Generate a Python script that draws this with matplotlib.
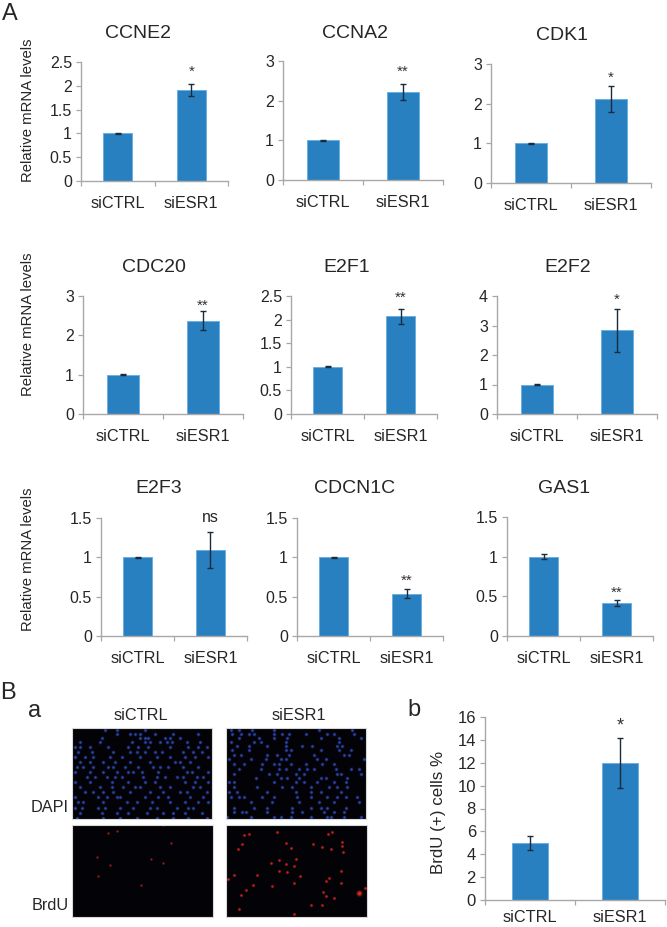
import matplotlib
matplotlib.use("Agg")
import matplotlib.pyplot as plt
from matplotlib.patches import Rectangle

W, H = 667, 927
plt.rcParams['font.family'] = ['Liberation Sans', 'DejaVu Sans']

# bar data
groups = ["siCTRL", "siESR1"]
genes = ["CCNE2", "CCNA2", "CDK1", "CDC20", "E2F1", "E2F2", "E2F3", "CDCN1C", "GAS1"]
ctrl_vals = [1, 1, 1, 1, 1, 1, 1, 1, 1]
ctrl_errs = [0.01, 0.01, 0.01, 0.01, 0.01, 0.01, 0.005, 0.005, 0.03]
esr_vals = [1.92, 2.22, 2.12, 2.37, 2.07, 2.84, 1.09, 0.54, 0.42]
esr_errs = [0.125, 0.20, 0.33, 0.245, 0.16, 0.73, 0.23, 0.06, 0.04]
y_maxes = [2.5, 3, 3, 3, 2.5, 4, 1.5, 1.5, 1.5]
y_ticks = [
    [0, 0.5, 1, 1.5, 2, 2.5], [0, 1, 2, 3], [0, 1, 2, 3],
    [0, 1, 2, 3], [0, 0.5, 1, 1.5, 2, 2.5], [0, 1, 2, 3, 4],
    [0, 0.5, 1, 1.5], [0, 0.5, 1, 1.5], [0, 0.5, 1, 1.5],
]
stars = ["*", "**", "*", "**", "**", "*", "ns", "**", "**"]

brdu_vals = [5, 12]
brdu_errs = [0.6, 2.17]
brdu_ticks = [0, 2, 4, 6, 8, 10, 12, 14, 16]

# layout, in pixels of the figure
boxes = [
    (81, 228, 62, 181), (283, 443, 61, 180), (491, 651, 64, 183),
    (83, 243, 296, 414), (291, 437, 296, 414), (497, 657, 296, 414),
    (101, 247, 518, 636), (297, 443, 518, 636), (507, 653, 517, 636),
]
title_pos = [(138, 33), (355, 33), (562, 36), (154, 267), (347, 267),
             (568, 267), (159, 489), (355, 489), (564, 488)]
star_y = [70, 70, 76, 304, 296, 298, 517, 579, 591]

# spots of the micrographs, (row y, [x...])
dapi_ctrl = [
    (15, [105, 140, 225]),
    (28, [140, 180, 195, 210, 255, 310, 385]),
    (40, [95, 210, 225, 235, 285, 300, 330]),
    (50, [30, 90, 185, 225, 240, 270, 290, 305, 350, 390]),
    (65, [15, 30, 60, 115, 175, 205, 235, 300, 355, 385, 410]),
    (80, [25, 65, 130, 180, 200, 225, 255, 275, 340, 370, 395]),
    (95, [15, 45, 70, 120, 155, 210, 260, 300, 345, 375, 415]),
    (110, [30, 60, 100, 135, 180, 240, 315, 330, 360]),
    (125, [20, 40, 70, 115, 130, 165, 205, 250, 270, 295, 340, 385]),
    (140, [15, 60, 100, 140, 175, 190, 215, 265, 350, 365, 415]),
    (155, [50, 75, 110, 135, 155, 220, 260, 285, 320, 340, 380, 400]),
    (170, [15, 60, 125, 175, 225, 255, 345, 375, 415]),
    (185, [30, 90, 125, 160, 195, 210, 270, 300, 370, 390]),
    (200, [45, 70, 100, 130, 180, 240, 280, 330, 350, 410]),
    (215, [15, 85, 110, 140, 150, 225, 265, 295, 360, 400]),
    (230, [25, 40, 100, 170, 200, 245, 300, 345, 385, 415]),
    (245, [15, 35, 85, 105, 150, 190, 240, 260, 320, 355, 370]),
    (260, [30, 95, 140, 175, 230, 280, 310, 345, 395]),
    (275, [20, 100, 150, 200, 260, 310, 355, 410]),
]
dapi_esr = [
    (15, [20, 45, 85, 150, 285, 385]),
    (28, [25, 50, 75, 90, 150, 175, 195, 245, 310, 330, 390]),
    (40, [45, 105, 150, 190, 290, 345, 410]),
    (50, [20, 90, 110, 185, 345]),
    (62, [40, 75, 130, 185, 235, 265, 340, 355]),
    (75, [25, 75, 185, 200, 290, 345, 380]),
    (90, [30, 50, 130, 160, 195, 270, 360, 375]),
    (100, [15, 80, 125, 170, 185, 280, 305, 420]),
    (115, [30, 60, 115, 150, 165, 200, 245, 295, 330]),
    (130, [45, 110, 165, 185, 225, 250, 270, 335, 380, 405]),
    (145, [30, 135, 160, 215, 240, 340, 350, 410]),
    (158, [95, 170, 190, 225, 290, 305, 370]),
    (170, [15, 30, 150, 215, 240, 280, 330, 365]),
    (185, [30, 100, 175, 205, 260, 315, 340, 370]),
    (200, [15, 40, 130, 215, 260, 290, 350]),
    (215, [20, 45, 60, 115, 150, 220, 260, 310, 340, 365, 400]),
    (230, [80, 145, 225, 285, 330, 405]),
    (245, [30, 90, 130, 205, 260, 290, 310, 365]),
    (258, [30, 55, 65, 130, 205, 235, 300, 330, 360]),
    (272, [10, 80, 150, 170, 200, 260, 310, 320, 360, 410]),
]
brdu_ctrl_x = [325, 352, 514, 291, 330, 489, 295, 424, 455, 490]
brdu_ctrl_y = [520, 514, 550, 591, 614, 610, 648, 676, 597, 496]
brdu_esr_x = [732, 746, 831, 727, 715, 858, 872, 939, 967, 985, 997, 1026, 1027, 995, 1031,
              838, 888, 814, 858, 838, 881, 862, 701, 772, 900, 1025, 883, 989, 979, 1024,
              737, 817, 760, 722, 970, 978, 1002, 1095, 967, 935, 718, 882, 685]
brdu_esr_y = [525, 522, 515, 553, 568, 549, 563, 553, 562, 522, 517, 545, 557, 568, 577,
              600, 598, 610, 613, 632, 618, 637, 646, 644, 648, 633, 669, 655, 663, 668,
              689, 679, 675, 706, 696, 708, 713, 685, 735, 735, 748, 762, 658]
brdu_big_x = [1079]
brdu_big_y = [698]

BLUE = "#2880c1"
EDGE = "#6cb0e0"
GREY = "#a8a8a8"
INK = "#262626"
ERR = "#1c2b3a"


def px_axes(fig, l, r, t, b):
    return fig.add_axes([l / W, 1 - b / H, (r - l) / W, (b - t) / H])


def px_text(fig, x, y, s, size, ha="center", va="center", rot=0, color=INK):
    fig.text(x / W, 1 - y / H, s, fontsize=size, ha=ha, va=va, rotation=rot, color=color)


def fmt(v):
    return f"{v:g}"


def bar_panel(ax, vals, errs, ymax, ticks, tick_size=11.5, x_pad=10.5):
    ax.bar([0.5, 1.5], vals, width=0.4, color=BLUE, edgecolor=EDGE, linewidth=0.7,
           yerr=errs, error_kw=dict(ecolor=ERR, elinewidth=1.0, capsize=2.5, capthick=1.0))
    ax.set_xlim(0, 2)
    ax.set_ylim(0, ymax)
    ax.set_yticks(ticks)
    ax.set_yticklabels([fmt(t) for t in ticks], fontsize=tick_size, color=INK)
    ax.set_xticks([0, 1, 2])
    ax.set_xticklabels([])
    ax.set_xticks([0.5, 1.5], minor=True)
    ax.set_xticklabels(groups, minor=True, fontsize=11.7, color=INK)
    ax.tick_params(axis="x", which="major", length=3.5, width=0.9, color=GREY, direction="out")
    ax.tick_params(axis="x", which="minor", length=0, pad=x_pad)
    ax.tick_params(axis="y", length=3.5, width=0.9, color=GREY, pad=3)
    for side in ["top", "right"]:
        ax.spines[side].set_visible(False)
    for side in ["left", "bottom"]:
        ax.spines[side].set_color(GREY)
        ax.spines[side].set_linewidth(1.0)
    ax.patch.set_alpha(0)


def flatten(rows):
    xs, ys = [], []
    for y, row in rows:
        for x in row:
            xs.append(x)
            ys.append(y)
    return xs, ys


def micro_axes(fig, l, r, t, b, xlim, ylim):
    ax = px_axes(fig, l, r, t, b)
    ax.set_facecolor("#020207")
    ax.set_xlim(*xlim)
    ax.set_ylim(*ylim)
    ax.set_xticks([])
    ax.set_yticks([])
    for s in ax.spines.values():
        s.set_color("#d8d8d8")
        s.set_linewidth(0.8)
    return ax


def spots(ax, xs, ys, color, size):
    ax.scatter(xs, ys, s=size * 2.6, color=color, alpha=0.28, linewidths=0)
    ax.scatter(xs, ys, s=size, color=color, alpha=0.8, linewidths=0)


fig = plt.figure(figsize=(W / 100, H / 100), dpi=100, facecolor="white")

for i, gene in enumerate(genes):
    l, r, t, b = boxes[i]
    ax = px_axes(fig, l, r, t, b)
    bar_panel(ax, [ctrl_vals[i], esr_vals[i]], [ctrl_errs[i], esr_errs[i]], y_maxes[i], y_ticks[i])
    px_text(fig, title_pos[i][0], title_pos[i][1], gene, 14)
    sx = l + (r - l) * 0.75
    if stars[i] == "ns":
        px_text(fig, sx, star_y[i], stars[i], 11.5)
    else:
        px_text(fig, sx, star_y[i] + 2, stars[i], 11, color="#333333")

# the 0 of 0.5 is cut off in CDCN1C
fig.add_artist(Rectangle((256 / W, 1 - 606 / H), 8 / W, 22 / H, transform=fig.transFigure,
                         facecolor="white", edgecolor="none", zorder=5))

for y in [110, 324, 559]:
    px_text(fig, 28, y, "Relative mRNA levels", 10.7, rot=90)

px_text(fig, 10, 14, "A", 17)
px_text(fig, 8, 693, "B", 17)
px_text(fig, 35, 711, "a", 17)
px_text(fig, 414, 710, "b", 17)

# micrographs
px_text(fig, 141, 715, groups[0], 11.7)
px_text(fig, 299, 715, groups[1], 11.7)
ax = micro_axes(fig, 72, 212, 728, 819, (6, 426), (279, 9))
spots(ax, *flatten(dapi_ctrl), "#3350c4", 3.2)
ax = micro_axes(fig, 226, 366, 728, 819, (6, 426), (279, 9))
spots(ax, *flatten(dapi_esr), "#3350c4", 3.2)
ax = micro_axes(fig, 72, 213, 825, 917, (217, 640), (771, 495))
spots(ax, brdu_ctrl_x, brdu_ctrl_y, "#c8201c", 1.6)
ax = micro_axes(fig, 226, 367, 825, 917, (678, 1102), (771, 495))
spots(ax, brdu_esr_x, brdu_esr_y, "#e02a20", 2.6)
spots(ax, brdu_big_x, brdu_big_y, "#f03020", 9)
px_text(fig, 69, 808, "DAPI", 11.7, ha="right")
px_text(fig, 69, 906, "BrdU", 11.7, ha="right")

# BrdU bars
ax = px_axes(fig, 485, 665, 717, 900)
bar_panel(ax, brdu_vals, brdu_errs, 16, brdu_ticks, tick_size=12, x_pad=7)
px_text(fig, 438, 812, "BrdU (+) cells %", 12.2, rot=90)
px_text(fig, 620, 726, "*", 13, color="#333333")

fig.savefig("out.png", dpi=100, facecolor="white")
